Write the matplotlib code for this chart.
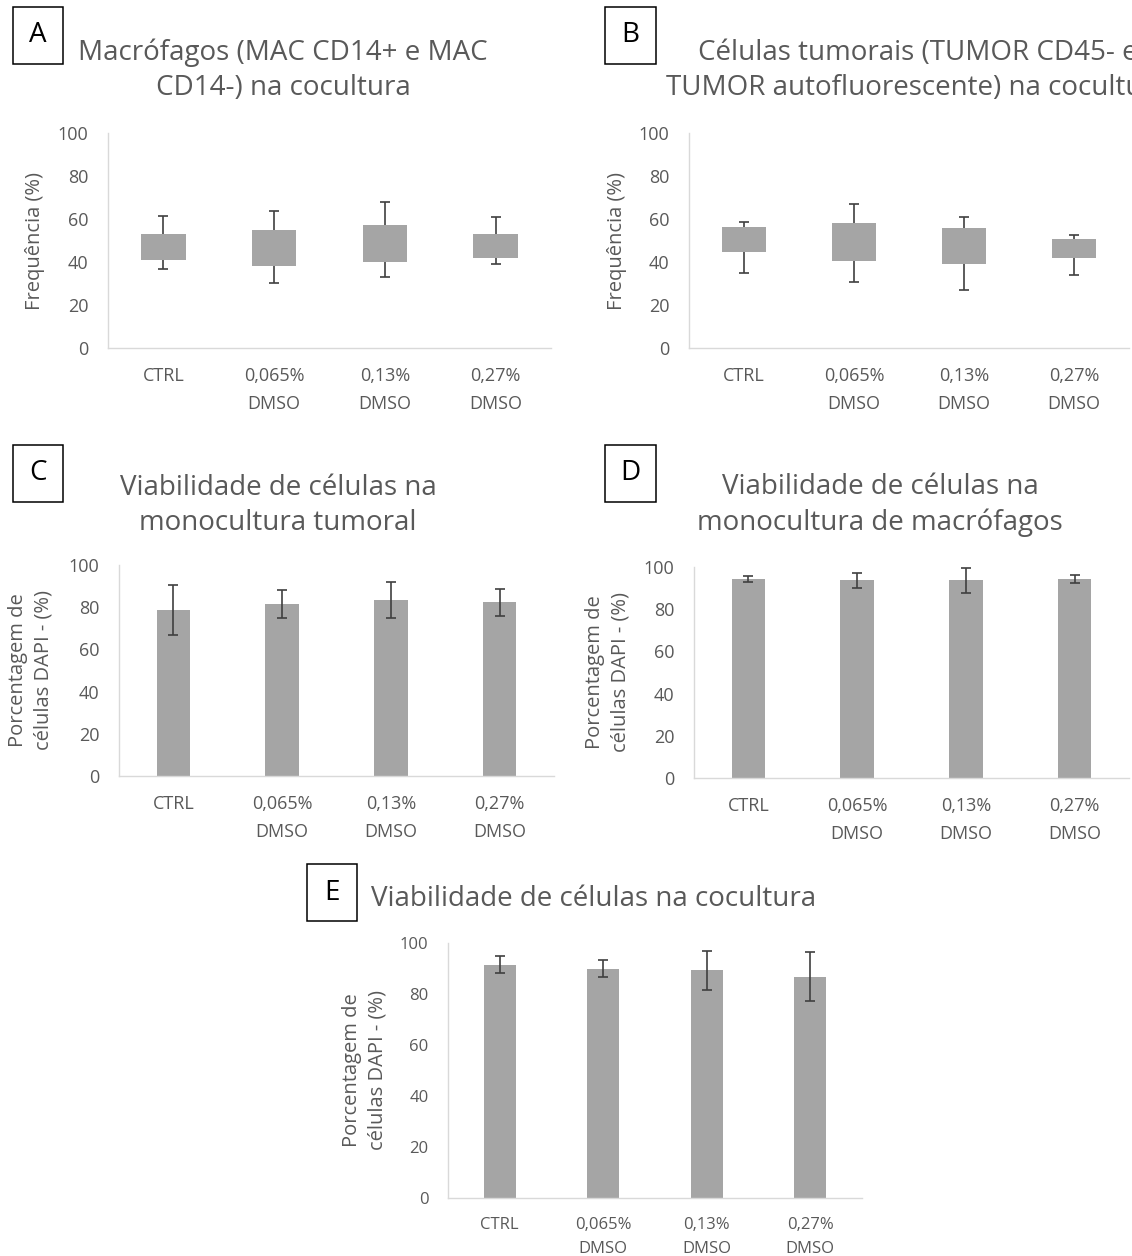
import numpy as np
import matplotlib.pyplot as plt
from matplotlib.patches import Rectangle

plt.rcParams['font.family'] = ['Open Sans', 'DejaVu Sans']

W, H = 1132, 1256
TXT = '#595959'
AXC = '#d9d9d9'
BARC = '#a5a5a5'
ERRC = '#404040'

cats = ['CTRL', '0,065%\nDMSO', '0,13%\nDMSO', '0,27%\nDMSO']

# A - macrofagos na cocultura (caixa = faixa, bigodes = min/max)
macro_low = [40.9, 38.3, 40.1, 42.0]
macro_high = [53.0, 54.9, 57.1, 53.0]
macro_min = [36.9, 30.3, 33.1, 39.0]
macro_max = [61.6, 63.9, 68.0, 61.1]

# B - celulas tumorais na cocultura
tumor_low = [44.5, 40.6, 38.9, 41.7]
tumor_high = [56.5, 58.3, 55.7, 50.9]
tumor_min = [34.7, 30.8, 27.2, 33.9]
tumor_max = [58.5, 66.9, 60.7, 52.7]

# C - viabilidade monocultura tumoral
mono_tumor_mean = [78.7, 81.5, 83.3, 82.3]
mono_tumor_err = [11.9, 6.8, 8.5, 6.4]

# D - viabilidade monocultura de macrofagos
mono_mac_mean = [94.5, 93.7, 93.7, 94.2]
mono_mac_err = [1.4, 3.5, 5.8, 1.8]

# E - viabilidade na cocultura
co_mean = [91.5, 90.0, 89.3, 86.8]
co_err = [3.3, 3.4, 7.7, 9.6]

fig = plt.figure(figsize=(W / 100, H / 100), dpi=100)


def make_axes(x0, x1, ytop, ybot):
    return fig.add_axes([x0 / W, 1 - ybot / H, (x1 - x0) / W, (ybot - ytop) / H])


def style_axes(ax, ylabel, label_right, tick_fs=13, label_fs=14.5):
    x = np.arange(len(cats))
    ax.set_xlim(-0.5, 3.5)
    ax.set_ylim(0, 100)
    ax.set_yticks([0, 20, 40, 60, 80, 100])
    ax.set_xticks(x)
    ax.set_xticklabels(cats)
    for lab in ax.get_xticklabels():
        lab.set_linespacing(1.65)
    for s in ['top', 'right']:
        ax.spines[s].set_visible(False)
    for s in ['left', 'bottom']:
        ax.spines[s].set_color(AXC)
        ax.spines[s].set_linewidth(1.0)
    ax.tick_params(axis='both', length=0, colors=TXT, labelsize=tick_fs)
    ax.tick_params(axis='x', pad=14)
    ax.tick_params(axis='y', pad=14)
    ax.set_ylabel(ylabel, color=TXT, fontsize=label_fs, linespacing=1.4)
    # posicao do rotulo em pixels da figura
    bb = ax.get_position()
    ax.yaxis.set_label_coords((label_right / W - bb.x0) / bb.width, 0.5)


def float_boxes(ax, low, high, lo, hi):
    x = np.arange(len(cats))
    low = np.array(low)
    high = np.array(high)
    ax.bar(x, high - low, bottom=low, width=0.4, color=BARC, zorder=2)
    ax.vlines(x, high, hi, color=ERRC, lw=1.2, zorder=3)
    ax.vlines(x, lo, low, color=ERRC, lw=1.2, zorder=3)
    ax.plot(x, hi, ls='none', marker='_', ms=6.5, mew=1.2, color=ERRC, zorder=3)
    ax.plot(x, lo, ls='none', marker='_', ms=6.5, mew=1.2, color=ERRC, zorder=3)


def err_bars(ax, mean, err):
    x = np.arange(len(cats))
    ax.bar(x, mean, width=0.31, color=BARC, zorder=2)
    ax.errorbar(x, mean, yerr=err, fmt='none', ecolor=ERRC, elinewidth=1.2,
                capsize=3.6, capthick=1.2, zorder=3)


def panel_letter(letter, x0, x1, ytop, ybot):
    fig.add_artist(Rectangle((x0 / W, 1 - ybot / H), (x1 - x0) / W, (ybot - ytop) / H,
                             transform=fig.transFigure, fill=False, ec='black', lw=1.1))
    fig.text((x0 + x1) / 2 / W, 1 - (ytop + ybot) / 2 / H, letter, ha='center',
             va='center', fontsize=20, color='black')


def title(txt, xc, ybase, ls=1.35):
    fig.text(xc / W, 1 - ybase / H, txt, ha='center', va='baseline', fontsize=20,
             color=TXT, linespacing=ls, multialignment='center')


# A
axA = make_axes(108, 551, 133, 348)
float_boxes(axA, macro_low, macro_high, macro_min, macro_max)
style_axes(axA, 'Frequência (%)', 45)
panel_letter('A', 12.7, 62.7, 7, 64)
title('Macrófagos (MAC CD14+ e MAC\nCD14-) na cocultura', 283, 95)

# B
axB = make_axes(689, 1129, 133, 348)
float_boxes(axB, tumor_low, tumor_high, tumor_min, tumor_max)
style_axes(axB, 'Frequência (%)', 627)
panel_letter('B', 605, 656, 7, 64)
title('Células tumorais (TUMOR CD45- e\nTUMOR autofluorescente) na cocultura', 918, 95)

# C
axC = make_axes(119, 554, 565, 776)
err_bars(axC, mono_tumor_mean, mono_tumor_err)
style_axes(axC, 'Porcentagem de\ncélulas DAPI - (%)', 54)
panel_letter('C', 12.7, 62.7, 445, 502)
title('Viabilidade de células na\nmonocultura tumoral', 278, 530)

# D
axD = make_axes(694, 1129, 567, 778)
err_bars(axD, mono_mac_mean, mono_mac_err)
style_axes(axD, 'Porcentagem de\ncélulas DAPI - (%)', 631)
panel_letter('D', 605, 656, 445, 502)
title('Viabilidade de células na\nmonocultura de macrófagos', 880, 530)

# E
axE = make_axes(448, 862, 943, 1198)
err_bars(axE, co_mean, co_err)
style_axes(axE, 'Porcentagem de\ncélulas DAPI - (%)', 388, tick_fs=12)
panel_letter('E', 307, 357, 864, 921)
title('Viabilidade de células na cocultura', 594, 906)

fig.savefig('out.png', dpi=100)
